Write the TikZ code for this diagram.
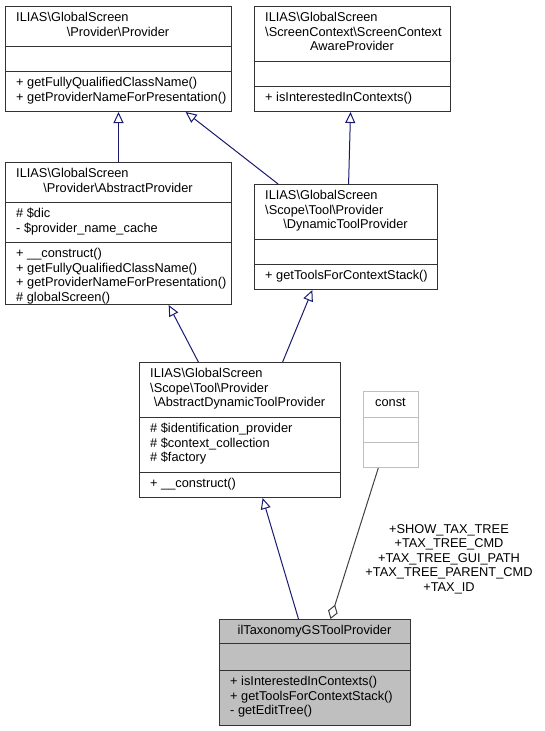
\documentclass[tikz,border=0pt]{standalone}
\usepackage{fontspec}
\setmainfont{Liberation Sans}
\usetikzlibrary{arrows.meta,calc}
\definecolor{navyline}{HTML}{191970}
\definecolor{aggline}{HTML}{404040}
\definecolor{lightgray}{HTML}{BFBFBF}
\tikzset{
	cls/.style={draw=black!80, line width=1pt, rectangle, inner sep=0, anchor=north west},
	ln/.style={anchor=base west, inner sep=0, font=\fontsize{12.8}{14.5}\selectfont},
	lc/.style={anchor=base, inner sep=0, font=\fontsize{12.8}{14.5}\selectfont},
	sep/.style={draw=black!80, line width=1pt},
	inh/.style={draw=navyline, line width=1pt, -{Triangle[open, length=11pt, width=10pt]}},
	agg/.style={draw=aggline, line width=1pt, {Diamond[open, length=15pt, width=10pt]}-},
}
\newcommand{\bs}{\textbackslash}
\begin{document}
\begin{tikzpicture}[x=1pt,y=-1pt]
	\useasboundingbox (0,0) rectangle (544,731);
	% Provider
	\node[cls, minimum width=226pt, minimum height=105pt] (prov) at (5,6) {};
	\draw[sep] (prov.west |- 0,46) -- (prov.east |- 0,46);
	\draw[sep] (prov.west |- 0,71) -- (prov.east |- 0,71);
	\node[ln] (prov-t1) at (16,21.5) {ILIAS\bs GlobalScreen};
	\node[lc] (prov-t2) at (118,36) {\bs Provider\bs Provider};
	\node[ln] (prov-m1) at (16,86.5) {+ getFullyQualifiedClassName()};
	\node[ln] (prov-m2) at (16,101) {+ getProviderNameForPresentation()};
	% ScreenContextAwareProvider
	\node[cls, minimum width=196pt, minimum height=105pt] (scap) at (254,6) {};
	\draw[sep] (scap.west |- 0,61) -- (scap.east |- 0,61);
	\draw[sep] (scap.west |- 0,86) -- (scap.east |- 0,86);
	\node[ln] (scap-t1) at (265,21.5) {ILIAS\bs GlobalScreen};
	\node[ln] (scap-t2) at (265,36) {\bs ScreenContext\bs ScreenContext};
	\node[lc] (scap-t3) at (352,50.5) {AwareProvider};
	\node[ln] (scap-m1) at (265,101.5) {+ isInterestedInContexts()};
	% AbstractProvider
	\node[cls, minimum width=226pt, minimum height=142pt] (absprov) at (5,162) {};
	\draw[sep] (absprov.west |- 0,202) -- (absprov.east |- 0,202);
	\draw[sep] (absprov.west |- 0,242) -- (absprov.east |- 0,242);
	\node[ln] (absprov-t1) at (16,177.5) {ILIAS\bs GlobalScreen};
	\node[lc] (absprov-t2) at (118,192) {\bs Provider\bs AbstractProvider};
	\node[ln] (absprov-a1) at (16,217.5) {\# \$dic};
	\node[ln] (absprov-a2) at (16,232) {- \$provider\_name\_cache};
	\node[ln] (absprov-m1) at (16,257.5) {+ \_\_construct()};
	\node[ln] (absprov-m2) at (16,272) {+ getFullyQualifiedClassName()};
	\node[ln] (absprov-m3) at (16,286.5) {+ getProviderNameForPresentation()};
	\node[ln] (absprov-m4) at (16,301) {\# globalScreen()};
	% DynamicToolProvider
	\node[cls, minimum width=183pt, minimum height=105pt] (dyn) at (254,184) {};
	\draw[sep] (dyn.west |- 0,239) -- (dyn.east |- 0,239);
	\draw[sep] (dyn.west |- 0,264) -- (dyn.east |- 0,264);
	\node[ln] (dyn-t1) at (265,199.5) {ILIAS\bs GlobalScreen};
	\node[ln] (dyn-t2) at (265,214) {\bs Scope\bs Tool\bs Provider};
	\node[lc] (dyn-t3) at (345.5,228.5) {\bs DynamicToolProvider};
	\node[ln] (dyn-m1) at (265,279.5) {+ getToolsForContextStack()};
	% AbstractDynamicToolProvider
	\node[cls, minimum width=201pt, minimum height=135pt] (absdyn) at (139,362) {};
	\draw[sep] (absdyn.west |- 0,417) -- (absdyn.east |- 0,417);
	\draw[sep] (absdyn.west |- 0,472) -- (absdyn.east |- 0,472);
	\node[ln] (absdyn-t1) at (150,377.5) {ILIAS\bs GlobalScreen};
	\node[ln] (absdyn-t2) at (150,392) {\bs Scope\bs Tool\bs Provider};
	\node[lc] (absdyn-t3) at (239.5,406.5) {\bs AbstractDynamicToolProvider};
	\node[ln] (absdyn-a1) at (150,432.5) {\# \$identification\_provider};
	\node[ln] (absdyn-a2) at (150,447) {\# \$context\_collection};
	\node[ln] (absdyn-a3) at (150,461.5) {\# \$factory};
	\node[ln] (absdyn-m1) at (150,487.5) {+ \_\_construct()};
	% const
	\node[cls, draw=lightgray, minimum width=55pt, minimum height=76pt] (const) at (363,391) {};
	\draw[sep, draw=lightgray] (const.west |- 0,417) -- (const.east |- 0,417);
	\draw[sep, draw=lightgray] (const.west |- 0,442) -- (const.east |- 0,442);
	\node[lc] (const-t1) at (390.5,406.5) {const};
	% ilTaxonomyGSToolProvider
	\node[cls, fill=lightgray, minimum width=191pt, minimum height=106pt] (tax) at (219,619) {};
	\draw[sep] (tax.west |- 0,643) -- (tax.east |- 0,643);
	\draw[sep] (tax.west |- 0,670) -- (tax.east |- 0,670);
	\node[lc] (tax-t1) at (314.5,634.5) {ilTaxonomyGSToolProvider};
	\node[ln] (tax-m1) at (230,685.5) {+ isInterestedInContexts()};
	\node[ln] (tax-m2) at (230,700) {+ getToolsForContextStack()};
	\node[ln] (tax-m3) at (230,714.5) {- getEditTree()};
	% inheritance
	\draw[inh] (absprov.north) -- (prov.south);
	\draw[inh] ($(dyn.north west)!0.131!(dyn.north east)$) -- ($(prov.south west)!0.796!(prov.south east)$);
	\draw[inh] ($(dyn.north west)!0.514!(dyn.north east)$) -- ($(scap.south west)!0.49!(scap.south east)$);
	\draw[inh] ($(absdyn.north west)!0.294!(absdyn.north east)$) -- ($(absprov.south west)!0.721!(absprov.south east)$);
	\draw[inh] ($(absdyn.north west)!0.711!(absdyn.north east)$) -- ($(dyn.south west)!0.317!(dyn.south east)$);
	\draw[inh] ($(tax.north west)!0.414!(tax.north east)$) -- ($(absdyn.south west)!0.612!(absdyn.south east)$);
	% aggregation
	\draw[agg] ($(tax.north west)!0.581!(tax.north east)$) -- ($(const.south west)!0.273!(const.south east)$);
	\foreach \t [count=\i] in {+SHOW\_TAX\_TREE, +TAX\_TREE\_CMD, +TAX\_TREE\_GUI\_PATH, +TAX\_TREE\_PARENT\_CMD, +TAX\_ID}
		\node[lc] (lbl\i) at (449,518.5+14.5*\i) {\t};
\end{tikzpicture}
\end{document}
